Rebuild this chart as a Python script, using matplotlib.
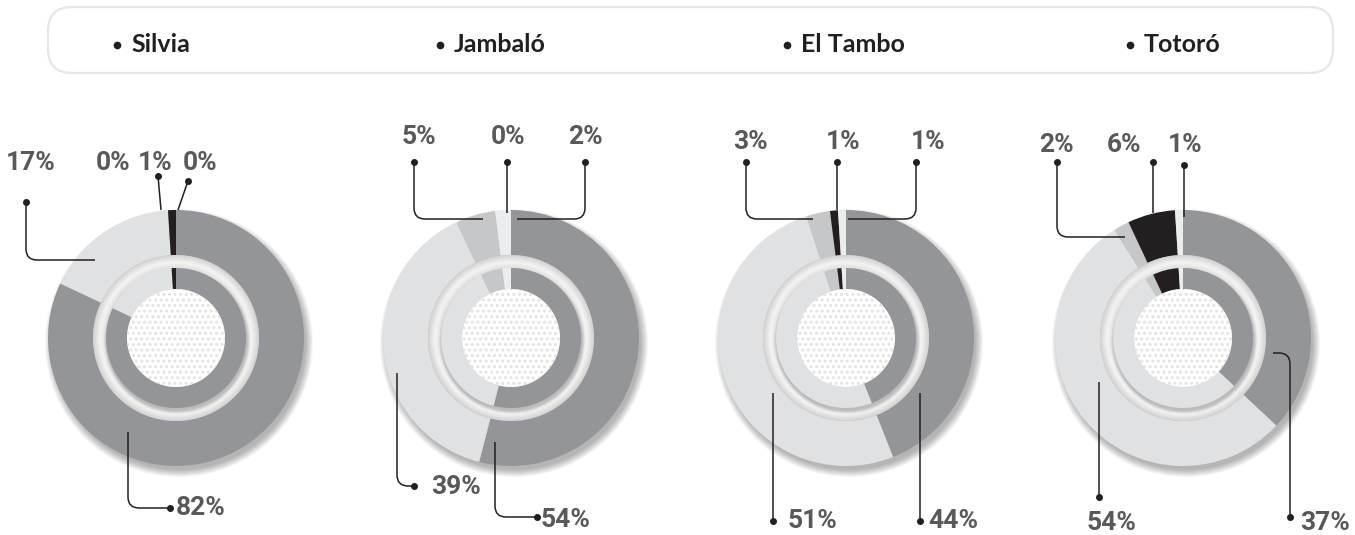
import numpy as np
import matplotlib.pyplot as plt
from matplotlib.patches import Circle, FancyBboxPatch, PathPatch
from matplotlib.path import Path

W, H = 1355, 535

towns = ['Silvia', 'Jambaló', 'El Tambo', 'Totoró']
# shares in %, slices clockwise from 12 o'clock: dark, light, mid, black, pale
dark_share = [82, 54, 44, 37]
light_share = [17, 39, 51, 54]
mid_share = [0, 5, 3, 2]
black_share = [1, 0, 1, 6]
pale_share = [0, 2, 1, 1]

slice_colors = ['#939598', '#e0e1e2', '#c6c7c8', '#231f20', '#ebeced']
line_col = '#231f20'
text_col = '#58595b'

# layout (pixels from top-left of the picture)
centers_x = [176, 511, 846, 1183]
center_y = 338
R1, R2, R3, R4 = 128, 83, 70, 49
header_x = [117, 440, 787, 1130]

# label spots and leader lines per town, same slice order as above
# (text x, text y, leader points starting at the dot)
label_spots = [
    [(201, 508, [(170, 508), (128, 508), (128, 432)]),
     (31, 163, [(26, 202), (26, 260), (95, 260)]),
     (113, 163, None),
     (155, 163, [(158, 176), (161, 210)]),
     (200, 163, [(188, 181), (178, 210)])],
    [(565, 520, [(537, 517), (495, 517), (495, 442)]),
     (456, 487, [(414, 486), (397, 486), (397, 373)]),
     (419, 137, [(414, 162), (414, 219), (483, 219)]),
     (508, 137, [(507, 162), (507, 213)]),
     (585, 137, [(585, 162), (585, 219), (517, 219)])],
    [(953, 521, [(920, 521), (920, 393)]),
     (812, 521, [(773, 521), (773, 393)]),
     (750, 142, [(746, 162), (746, 219), (813, 219)]),
     (843, 142, [(837, 162), (837, 210)]),
     (928, 142, [(916, 162), (916, 219), (848, 219)])],
    [(1325, 523, [(1290, 517), (1290, 353), (1273, 353)]),
     (1112, 523, [(1099, 497), (1099, 382)]),
     (1056, 145, [(1057, 162), (1057, 237), (1125, 237)]),
     (1124, 145, [(1153, 162), (1153, 213)]),
     (1185, 145, [(1184, 165), (1184, 217)])],
]


def P(x, y):
    return x, H - y


def rounded_path(pts, r=11):
    pts = [np.array(P(*p), float) for p in pts]
    verts, codes = [pts[0]], [Path.MOVETO]
    for i in range(1, len(pts) - 1):
        a, b, c = pts[i - 1], pts[i], pts[i + 1]
        u1 = (b - a) / np.linalg.norm(b - a)
        u2 = (c - b) / np.linalg.norm(c - b)
        verts += [b - u1 * r, b, b + u2 * r]
        codes += [Path.LINETO, Path.CURVE3, Path.CURVE3]
    verts.append(pts[-1])
    codes.append(Path.LINETO)
    return Path(verts, codes)


plt.rcParams['hatch.linewidth'] = 1.4
fig = plt.figure(figsize=(W / 100, H / 100), dpi=100)
ax = fig.add_axes([0, 0, 1, 1])

# header box
ax.add_patch(FancyBboxPatch(P(48, 73), 1285, 66,
                            boxstyle='round,pad=0,rounding_size=24',
                            fc='white', ec='#e6e6e6', lw=1.6))
for x, name in zip(header_x, towns):
    ax.plot(*P(x, 45), 'o', ms=4.5, color=line_col)
    ax.text(*P(x + 14, 44), name, fontsize=18, fontweight='bold',
            family='Lato', color=line_col, ha='left', va='center')

for i, cx in enumerate(centers_x):
    vals = [dark_share[i], light_share[i], mid_share[i],
            black_share[i], pale_share[i]]
    c = P(cx, center_y)

    # soft drop shadow under the outer ring
    for k in range(9):
        ax.add_patch(Circle((c[0] + 3, c[1] - 5), R1 + 6 - k * 0.9,
                            fc='black', alpha=0.035, lw=0, zorder=1))

    ax.pie(vals, colors=slice_colors, radius=R1, center=c, startangle=90,
           counterclock=False, frame=True,
           wedgeprops=dict(width=R1 - R2, lw=0, zorder=2))

    # shaded gap ring
    shades = np.concatenate([np.linspace(0.83, 0.95, 8), np.linspace(0.95, 0.88, 6)])
    for r, s in zip(np.linspace(R2, R3 + 1, len(shades)), shades):
        ax.add_patch(Circle(c, r, fc=str(s), lw=0, zorder=3))
    for k in range(5):
        ax.add_patch(Circle((c[0] + 1, c[1] - 3), R3 + 3 - k * 0.7,
                            fc='black', alpha=0.035, lw=0, zorder=3))

    ax.pie(vals, colors=slice_colors, radius=R3, center=c, startangle=90,
           counterclock=False, frame=True,
           wedgeprops=dict(width=R3 - R4, lw=0, zorder=4))

    ax.add_patch(Circle(c, R4, fc='white', lw=0, zorder=5))
    ax.add_patch(Circle(c, R4, fc='none', ec='#e2e2e2', hatch='...',
                        lw=0, zorder=6))

    for v, (tx, ty, pts) in zip(vals, label_spots[i]):
        ax.text(*P(tx, ty), f'{v}%', fontsize=19, fontweight='bold',
                family='Roboto', color=text_col, ha='center', va='center',
                zorder=8)
        if pts is None:
            continue
        ax.add_patch(PathPatch(rounded_path(pts), fc='none', ec=line_col,
                               lw=1.1, zorder=7))
        ax.plot(*P(*pts[0]), 'o', ms=4, color=line_col, zorder=7)

ax.set_xlim(0, W)
ax.set_ylim(0, H)
ax.set_aspect('equal')
ax.axis('off')
fig.savefig('out.png', dpi=100, facecolor='white')
